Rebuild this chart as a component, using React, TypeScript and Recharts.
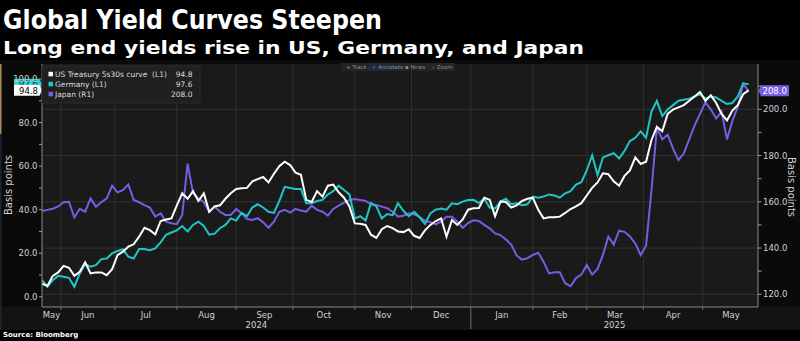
import React from 'react';
import { LineChart, Line, XAxis, YAxis, CartesianGrid, ReferenceLine } from 'recharts';

// x = business days counted from Mon 3 Jun 2024, one reading every 2 days
const firstDay = -7;
const dayStep = 2;

// US Treasury 5s30s curve, bp (left axis)
const usCurve = [
  6, 5, 9.6, 11.2, 14.2, 13.3, 9.6, 11.5, 15.8, 10.7,
  11.2, 11.2, 9.9, 12.7, 19.1, 20.7, 23, 24.1, 27.6, 31.7,
  30.6, 28.6, 34.8, 35.5, 36, 42, 47.5, 45, 48.5, 44,
  47.5, 39, 41.5, 42, 45, 47.5, 49.5, 49.8, 50, 53,
  54, 55, 52.5, 56.5, 60, 62, 60.5, 57, 56, 44.5,
  43.5, 48.5, 46, 51, 51.5, 48, 45.5, 41.5, 33.7, 33.5,
  33, 28.5, 27, 31, 32.5, 31.5, 30, 29.7, 31, 28,
  27, 30.5, 33, 34.8, 36, 27.6, 35.2, 33, 35.5, 40,
  40.6, 40.8, 45.5, 44.5, 37, 43.7, 43.5, 41, 42, 44,
  45, 45.5, 40, 36, 36.5, 36.5, 36.8, 38.5, 40.3, 41.5,
  43, 46.5, 50, 52.5, 56.7, 56.3, 53, 51, 55.5, 58,
  64, 61, 62, 72, 78, 76, 84, 86, 87, 88,
  90, 92, 94, 90, 92.5, 89, 84, 81, 85.5, 88,
  93, 94.8,
];

// Germany 5s30s curve, bp (left axis)
const germany = [
  7.6, 4.6, 7.6, 9.6, 9.2, 8.7, 4.6, 10.7, 14.9, 13.8,
  14.5, 17.3, 17.6, 19.9, 21, 21.9, 18.4, 17.6, 21.9, 21.9,
  21.4, 22.2, 25, 28.5, 29.5, 30.5, 32.5, 30, 33, 34.5,
  32.5, 28.5, 29, 31.5, 33, 36, 35, 38.5, 37, 41,
  42.5, 41, 39, 38.5, 44, 50.5, 50, 49.5, 49.5, 43,
  43, 44, 44.5, 47, 48.5, 51, 49, 47, 36, 37,
  35, 43, 41.5, 36, 38, 37.5, 43, 39.5, 37, 39,
  36.5, 33.5, 38.3, 40, 40.5, 40, 42.9, 42.5, 43.7, 44.4,
  44.5, 43, 45, 41, 40.6, 43.7, 45, 42.5, 42.9, 42,
  42.5, 46, 45.5, 46, 47, 46.5, 45.5, 47.5, 48.5, 51.5,
  52.6, 58, 65, 55.9, 64, 65, 66, 63.5, 67, 71.5,
  73, 76, 73, 85, 90, 83, 86, 88, 90, 90.5,
  91, 92, 93, 91, 92, 91.5, 90, 88.5, 89, 92,
  98, 97.6,
];

// Japan curve, bp (right axis)
const japan = [
  156, 156.5, 157, 158, 159.8, 160, 153.2, 157, 155.7, 161.5,
  157.9, 159.8, 161.5, 167, 164.1, 165, 167.5, 160.8, 159.8, 158.6,
  157.5, 153.6, 155, 151.4, 150.7, 150.3, 154.3, 176.5, 163.7, 161.5,
  159.8, 155.7, 157.9, 155.7, 154.3, 154.3, 156.9, 155, 152.6, 152.1,
  152.9, 151.1, 148.8, 151.4, 155.7, 156.5, 155.3, 156.9, 156.2, 155.7,
  158.3, 156.5, 155.7, 154, 156.9, 158.3, 159.6, 160.8, 161.2, 160.8,
  160.4, 158.9, 158.6, 157.9, 157.2, 155.7, 153.6, 154, 155, 154.6,
  153.5, 151.8, 151.2, 150.2, 151.4, 153.5, 153.5, 151.4, 148.7, 150.8,
  152, 151.7, 150, 148.5, 146.3, 145.6, 143.7, 141.5, 136.8, 135,
  135.6, 137, 138, 134, 129, 129.5, 129.5, 124.8, 123.5, 127,
  128.5, 132.7, 128.5, 131, 137, 145, 141.5, 147.5, 147, 145,
  142, 137, 141, 165, 192, 187, 189, 183, 178, 181,
  187, 193, 198, 203, 200, 196, 199, 187, 195, 201,
  211, 208,
];

const monthStarts = [0, 20, 43, 65, 86, 109, 130, 152, 175, 195, 216, 238];
const monthNames = ['May', 'Jun', 'Jul', 'Aug', 'Sep', 'Oct', 'Nov', 'Dec', 'Jan', 'Feb', 'Mar', 'Apr', 'May'];
const monthCentres = [-3.5, 10, 31.5, 54, 75.5, 97.5, 119.5, 141, 163.5, 185, 205.5, 227, 248.5];
const yearBreak = 152;
const years = ['2024', '2025'];
const yearCentres = [72.5, 205.3];

const leftTicks = [0, 10, 20, 30, 40, 50, 60, 70, 80, 90, 100];
const rightTicks = [120, 130, 140, 150, 160, 170, 180, 190, 200, 210];
const rightGrid = [120, 140, 160, 180, 200];

const WHITE = '#ffffff';
const TEAL = '#1fc6c6';
const PURPLE = '#7a5be4';
const AXIS_FONT = '"DejaVu Sans", Verdana, sans-serif';
const LABEL = '#d2d2d2';

const last = (a: number[]) => a[a.length - 1];

const legendRows = [
  { name: 'US Treasury 5s30s curve  (L1)', color: WHITE, value: last(usCurve) },
  { name: 'Germany (L1)', color: TEAL, value: last(germany) },
  { name: 'Japan (R1)', color: PURPLE, value: last(japan) },
];

const data = usCurve.map((v, k) => ({
  day: firstDay + k * dayStep,
  us: v,
  de: germany[k],
  jp: japan[k],
}));

const xTicks = [...monthStarts, ...monthCentres, ...yearCentres].sort((a, b) => a - b);

const XTick = (props: any) => {
  const { x, y, payload } = props;
  const v = payload.value;
  const m = monthCentres.indexOf(v);
  if (m >= 0) {
    return (
      <text x={x} y={y + 10.5} textAnchor="middle" fontSize={8.5} fontFamily={AXIS_FONT} fill={LABEL}>
        {monthNames[m]}
      </text>
    );
  }
  const yr = yearCentres.indexOf(v);
  if (yr >= 0) {
    return (
      <text x={x} y={y + 20.5} textAnchor="middle" fontSize={8.5} fontFamily={AXIS_FONT} fill={LABEL}>
        {years[yr]}
      </text>
    );
  }
  return <line x1={x} x2={x} y1={y} y2={y + (v === yearBreak ? 22 : 3)} stroke="#707070" />;
};

const LeftTick = (props: any) => {
  const { x, y, payload } = props;
  const v = payload.value;
  return (
    <g>
      <line x1={x - 3} x2={x} y1={y} y2={y} stroke="#a0a0a0" />
      {v % 20 === 0 && (
        <text x={x - 4.5} y={y + 3} textAnchor="end" fontSize={8.5} fontFamily={AXIS_FONT} fill={LABEL}>
          {v.toFixed(1)}
        </text>
      )}
    </g>
  );
};

const RightTick = (props: any) => {
  const { x, y, payload } = props;
  const v = payload.value;
  return (
    <g>
      <line x1={x} x2={x + 3.5} y1={y} y2={y} stroke="#a0a0a0" />
      {v % 20 === 0 && (
        <text x={x + 5} y={y + 3} textAnchor="start" fontSize={8.5} fontFamily={AXIS_FONT} fill={LABEL}>
          {v.toFixed(1)}
        </text>
      )}
    </g>
  );
};

// value tag sitting on the axis at the series' last value
const EndTag = (props: any) => {
  const { viewBox, side, text, bg, fg } = props;
  if (!viewBox) return null;
  const cy = viewBox.y;
  const h = 11;
  if (side === 'left') {
    const r = 39.5;
    const l = 14;
    const d = `M${l},${cy - h / 2} H${r} L${r + 2.5},${cy} L${r},${cy + h / 2} H${l} Z`;
    return (
      <g>
        <path d={d} fill={bg} />
        <text x={r - 1.5} y={cy + 3.2} textAnchor="end" fontSize={8.5} fontFamily={AXIS_FONT} fill={fg}>
          {text}
        </text>
      </g>
    );
  }
  const l = 761;
  const r = 789;
  const d = `M${l},${cy - h / 2} H${r} V${cy + h / 2} H${l} L${l - 2.5},${cy} Z`;
  return (
    <g>
      <path d={d} fill={bg} />
      <text x={l + 1.5} y={cy + 3.2} textAnchor="start" fontSize={8.5} fontFamily={AXIS_FONT} fill={fg}>
        {text}
      </text>
    </g>
  );
};

const Overlay = () => (
  <svg width={800} height={341} style={{ position: 'absolute', left: 0, top: 0, pointerEvents: 'none' }}>
    <text x={3} y={28.5} fontSize={26} fontWeight="bold" fontFamily={AXIS_FONT} fill="#fff"
      textLength={379} lengthAdjust="spacingAndGlyphs">
      Global Yield Curves Steepen
    </text>
    <text x={3} y={53.5} fontSize={18.5} fontWeight="bold" fontFamily={AXIS_FONT} fill="#fff"
      textLength={581} lengthAdjust="spacingAndGlyphs">
      Long end yields rise in US, Germany, and Japan
    </text>

    {/* toolbar */}
    <rect x={341} y={63} width={114} height={8} fill="#242424" />
    <rect x={368} y={63} width={34} height={8} fill="#1c2a3a" />
    <g fontSize={5.5} fontFamily={AXIS_FONT} fill="#8f8f8f">
      <text x={346} y={69}>+  Track</text>
      <text x={372} y={69}>✓ Annotate</text>
      <text x={405} y={69}>▪ News</text>
      <text x={432} y={69}>⌕ Zoom</text>
    </g>

    {/* legend */}
    <rect x={42} y={66} width={158} height={37} fill="#202020" stroke="#2b2b2b" />
    {legendRows.map((r, k) => {
      const cy = 74.3 + k * 10;
      return (
        <g key={r.name} fontSize={7.5} fontFamily={AXIS_FONT} fill="#dcdcdc">
          <rect x={48.5} y={cy - 2.5} width={4.5} height={4.5} fill={r.color} />
          <text x={55} y={cy + 3} style={{ whiteSpace: 'pre' }}>{r.name}</text>
          <text x={192.5} y={cy + 3} textAnchor="end">{r.value.toFixed(1)}</text>
        </g>
      );
    })}

    <text transform="translate(12,185) rotate(-90)" textAnchor="middle" fontSize={10} fontFamily={AXIS_FONT} fill={LABEL}>
      Basis points
    </text>
    <text transform="translate(788,187) rotate(90)" textAnchor="middle" fontSize={10} fontFamily={AXIS_FONT} fill={LABEL}>
      Basis points
    </text>

    <rect x={0} y={64} width={1.5} height={70} fill="#a5895a" />
    <rect x={0} y={134} width={1.5} height={196} fill="#1c2532" />

    <text x={3} y={337} fontSize={7} fontWeight="bold" fontFamily={AXIS_FONT} fill="#fff">
      Source: Bloomberg
    </text>
  </svg>
);

const App = () => {
  return (
    <div style={{ position: 'absolute', left: 0, top: 0, width: 800, height: 341, background: '#000', overflow: 'hidden' }}>
      <div style={{ position: 'absolute', left: 0, top: 60, width: 800, height: 270, background: '#0a0a0a' }} />
      <div style={{ position: 'absolute', left: 0, top: 307, width: 800, height: 23, background: '#131313' }} />
      <div style={{ position: 'absolute', left: 0, top: 0 }}>
        <LineChart width={800} height={341} data={data} margin={{ top: 64, right: 0, bottom: 0, left: 0 }}>
          <CartesianGrid
            yAxisId="right"
            fill="#1a1a1a"
            stroke="#313131"
            horizontalValues={rightGrid}
            verticalValues={monthStarts}
          />
          <XAxis
            dataKey="day"
            type="number"
            domain={[-7, 258.5]}
            allowDataOverflow
            ticks={xTicks}
            interval={0}
            tick={XTick}
            tickLine={false}
            tickSize={0}
            tickMargin={0}
            height={34}
            axisLine={{ stroke: '#8a8a8a' }}
          />
          <YAxis
            yAxisId="left"
            orientation="left"
            width={42}
            domain={[-4.7, 106.9]}
            allowDataOverflow
            ticks={leftTicks}
            interval={0}
            tick={LeftTick}
            tickLine={false}
            tickSize={0}
            tickMargin={0}
            axisLine={{ stroke: '#8a8a8a' }}
          />
          <YAxis
            yAxisId="right"
            orientation="right"
            width={42}
            domain={[114.5, 219.6]}
            allowDataOverflow
            ticks={rightTicks}
            interval={0}
            tick={RightTick}
            tickLine={false}
            tickSize={0}
            tickMargin={0}
            axisLine={{ stroke: '#8a8a8a' }}
          />
          <Line yAxisId="right" dataKey="jp" stroke={PURPLE} strokeWidth={2} dot={false} type="linear" isAnimationActive={false} />
          <Line yAxisId="left" dataKey="de" stroke={TEAL} strokeWidth={2} dot={false} type="linear" isAnimationActive={false} />
          <Line yAxisId="left" dataKey="us" stroke={WHITE} strokeWidth={2} dot={false} type="linear" isAnimationActive={false} />
          <ReferenceLine yAxisId="left" y={last(germany)} stroke="none"
            label={<EndTag side="left" text={last(germany).toFixed(1)} bg="#2ad0d0" fg="#05393a" />} />
          <ReferenceLine yAxisId="left" y={last(usCurve)} stroke="none"
            label={<EndTag side="left" text={last(usCurve).toFixed(1)} bg="#ffffff" fg="#000000" />} />
          <ReferenceLine yAxisId="right" y={last(japan)} stroke="none"
            label={<EndTag side="right" text={last(japan).toFixed(1)} bg={PURPLE} fg="#ffffff" />} />
        </LineChart>
      </div>
      <Overlay />
    </div>
  );
};

export default App;
